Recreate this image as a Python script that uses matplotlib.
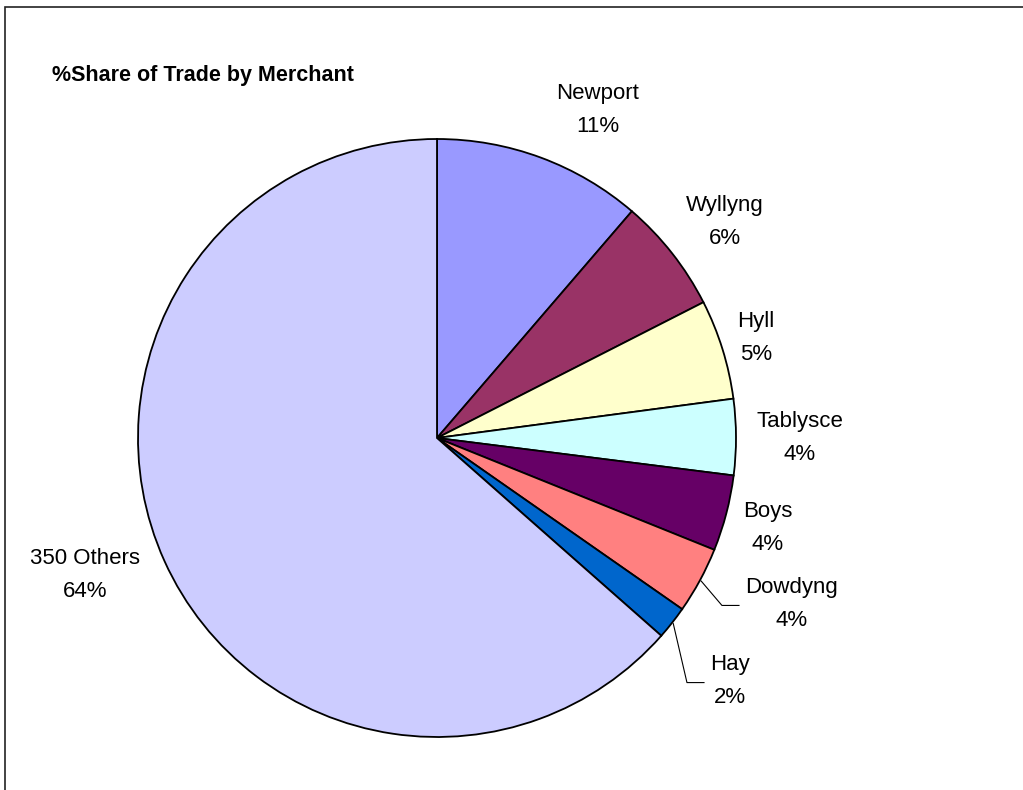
import matplotlib
matplotlib.use("Agg")
import matplotlib.pyplot as plt
import numpy as np
from matplotlib.patches import Rectangle

plt.rcParams["font.family"] = ["Liberation Sans", "DejaVu Sans"]

# share of trade per merchant, clockwise from twelve o'clock
merchants = ["Newport", "Wyllyng", "Hyll", "Tablysce", "Boys", "Dowdyng", "Hay", "350 Others"]
shares = [11.3, 6.2, 5.4, 4.1, 4.1, 3.6, 1.8, 63.5]
colors = ["#9999FF", "#993366", "#FFFFCC", "#CCFFFF", "#660066", "#FF8080", "#0066CC", "#CCCCFF"]

# label anchor points (pie radius = 1)
label_pos = [(0.538, 1.097), (0.963, 0.722), (1.067, 0.334), (1.214, 0.0),
             (1.107, -0.301), (1.187, -0.555), (0.980, -0.813), (-1.177, -0.458)]
# merchants whose labels get a leader line: elbow x, end x
leaders = {"Dowdyng": (0.953, 1.010), "Hay": (0.836, 0.893)}

W, H = 1023, 790
fig = plt.figure(figsize=(W / 100, H / 100), dpi=100)

# chart area border (only top and left edges fall inside the image)
fig.patches.append(Rectangle((5 / W, -0.1), 1.2, 1 - 7 / H + 0.1, transform=fig.transFigure,
                             fill=False, edgecolor="#222222", linewidth=1.2))

cx, cy, r = 437, 438, 299
ax = fig.add_axes([(cx - r) / W, (H - cy - r) / H, 2 * r / W, 2 * r / H])
wedges, _ = ax.pie(shares, colors=colors, startangle=90, counterclock=False, radius=1,
                   wedgeprops=dict(edgecolor="black", linewidth=1.3))
ax.set_xlim(-1, 1)
ax.set_ylim(-1, 1)
ax.set_aspect("equal")
ax.axis("off")

total = sum(shares)
for name, val, w, (lx, ly) in zip(merchants, shares, wedges, label_pos):
    pct = f"{int(val / total * 100 + 0.5)}%"
    ax.text(lx, ly, f"{name}\n{pct}", ha="center", va="center", fontsize=16,
            linespacing=1.75, clip_on=False)
    if name in leaders:
        mid = np.deg2rad((w.theta1 + w.theta2) / 2)
        x0, y0 = np.cos(mid), np.sin(mid)
        xe, xend = leaders[name]
        yl = ly - 0.005
        ax.plot([x0 * 1.005, xe, xend], [y0 * 1.005, yl, yl], color="black", lw=0.8,
                clip_on=False)

fig.text(52 / W, 1 - 75 / H, "%Share of Trade by Merchant", fontsize=15.5, fontweight="bold",
         ha="left", va="center")

fig.savefig("out.png", dpi=100)
